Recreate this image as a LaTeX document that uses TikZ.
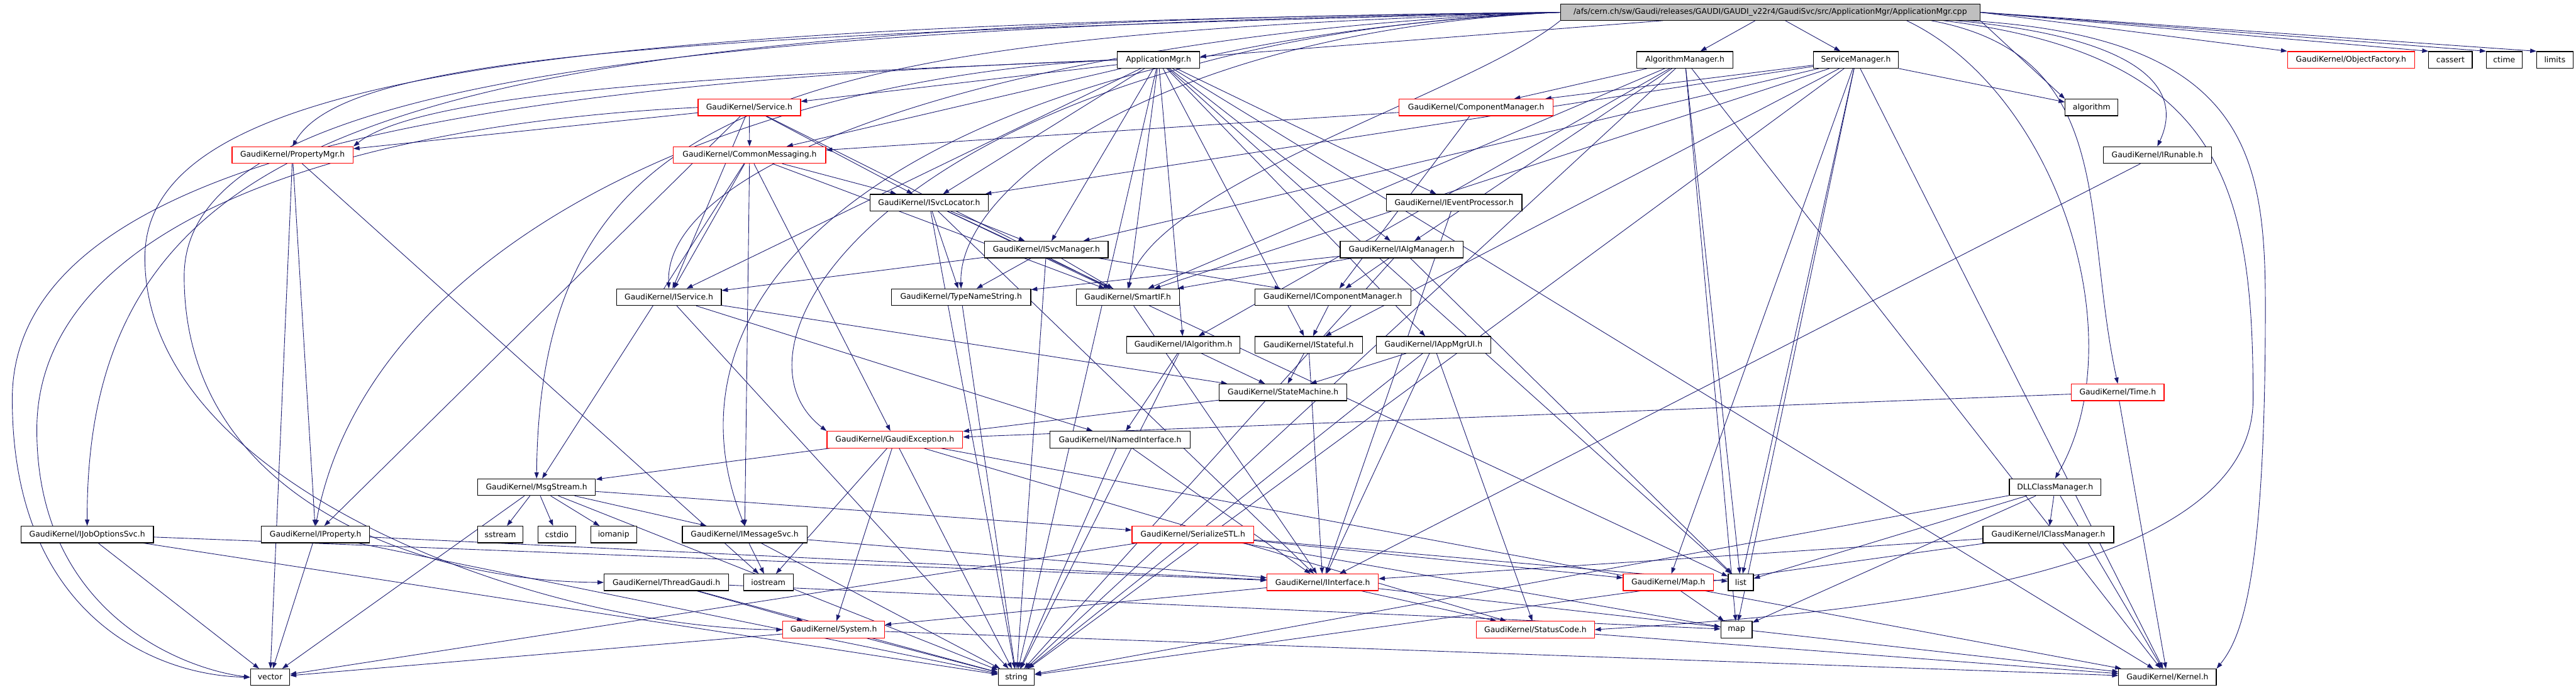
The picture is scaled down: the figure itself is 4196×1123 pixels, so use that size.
\documentclass[tikz,border=0pt]{standalone}
\usepackage{fontspec}
\newfontfamily\dvs{DejaVu Sans}
\usetikzlibrary{arrows.meta}
\definecolor{edgec}{HTML}{191970}
\definecolor{rootgray}{HTML}{BFBFBF}
\definecolor{redb}{HTML}{FF0000}
\pgfdeclarelayer{paper}
\pgfdeclarelayer{edges}
\pgfsetlayers{paper,edges,main}
\newcommand\ed[2]{\draw[dep] (#1) -- (#2);}
\begin{document}
\begin{tikzpicture}[x=1pt,y=-1pt,
  box/.style={draw=black,line width=1.2pt,fill=white,inner sep=0pt,minimum height=27pt,font=\dvs\fontsize{12.7pt}{15pt}\selectfont},
  redbox/.style={box,draw=redb},
  dep/.style={draw=edgec,line width=0.9pt,-{Triangle[length=10pt,width=7pt]}}]
\useasboundingbox (0,0) rectangle (4196,1123);
\begin{pgfonlayer}{paper}
\fill[white] (0,0) rectangle (4196,1123);
\end{pgfonlayer}
% row A
\node[box,fill=rootgray,minimum width=683pt,minimum height=26pt] (root) at (2883.5,20) {/afs/cern.ch/sw/Gaudi/releases/GAUDI/GAUDI\_v22r4/GaudiSvc/src/ApplicationMgr/ApplicationMgr.cpp};
% row B
\node[box,minimum width=134pt] (apm) at (1887,97.5) {ApplicationMgr.h};
\node[box,minimum width=157pt] (algm) at (2744.5,97.5) {AlgorithmManager.h};
\node[box,minimum width=138pt] (svcm) at (3023,97.5) {ServiceManager.h};
\node[redbox,minimum width=207pt] (objf) at (3829.5,97.5) {GaudiKernel/ObjectFactory.h};
\node[box,minimum width=71pt] (cassert) at (3991.5,97.5) {cassert};
\node[box,minimum width=58pt] (ctime) at (4079,97.5) {ctime};
\node[box,minimum width=59pt] (limits) at (4161.5,97.5) {limits};
% row C
\node[redbox,minimum width=167pt] (service) at (1220.5,175) {GaudiKernel/Service.h};
\node[redbox,minimum width=251pt] (compm) at (2404.5,175) {GaudiKernel/ComponentManager.h};
\node[box,minimum width=86pt] (algo) at (3407,175) {algorithm};
% row D
\node[redbox,minimum width=197pt] (propmgr) at (476.5,252.5) {GaudiKernel/PropertyMgr.h};
\node[redbox,minimum width=248pt] (commsg) at (1221,252.5) {GaudiKernel/CommonMessaging.h};
\node[box,minimum width=176pt] (irun) at (3514,252.5) {GaudiKernel/IRunable.h};
% row E
\node[box,minimum width=193pt] (isvcloc) at (1513.5,330) {GaudiKernel/ISvcLocator.h};
\node[box,minimum width=221pt] (ievp) at (2368.5,330) {GaudiKernel/IEventProcessor.h};
% row F
\node[box,minimum width=201pt] (isvcmgr) at (1704.5,406.5) {GaudiKernel/ISvcManager.h};
\node[box,minimum width=200pt] (ialgmgr) at (2283,406.5) {GaudiKernel/IAlgManager.h};
% row G
\node[box,minimum width=171pt] (iservice) at (1089.5,484) {GaudiKernel/IService.h};
\node[box,minimum width=227pt] (tns) at (1565.5,484) {GaudiKernel/TypeNameString.h};
\node[box,minimum width=168pt] (smartif) at (1837,484) {GaudiKernel/SmartIF.h};
\node[box,minimum width=254pt] (icompmgr) at (2171,484) {GaudiKernel/IComponentManager.h};
% row H
\node[box,minimum width=185pt] (ialg) at (1927.5,561.5) {GaudiKernel/IAlgorithm.h};
\node[box,minimum width=175pt] (istateful) at (2131.5,561.5) {GaudiKernel/IStateful.h};
\node[box,minimum width=186pt] (iappmgrui) at (2335,561.5) {GaudiKernel/IAppMgrUI.h};
% row I
\node[box,minimum width=208pt] (statem) at (2090,639) {GaudiKernel/StateMachine.h};
\node[redbox,minimum width=151pt] (timeh) at (3449.5,639) {GaudiKernel/Time.h};
% row J
\node[redbox,minimum width=221pt] (gexc) at (1457.5,716) {GaudiKernel/GaudiException.h};
\node[box,minimum width=229pt] (inamed) at (1824.5,716) {GaudiKernel/INamedInterface.h};
% row K
\node[box,minimum width=192pt] (msgs) at (874,793.5) {GaudiKernel/MsgStream.h};
\node[box,minimum width=149pt] (dllcm) at (3347.5,793.5) {DLLClassManager.h};
% row L
\node[box,minimum width=216pt] (ijob) at (142,870.5) {GaudiKernel/IJobOptionsSvc.h};
\node[box,minimum width=176pt] (iprop) at (514,870.5) {GaudiKernel/IProperty.h};
\node[box,minimum width=74pt] (sstream) at (815,870.5) {sstream};
\node[box,minimum width=62pt] (cstdio) at (907,870.5) {cstdio};
\node[box,minimum width=75pt] (iomanip) at (999.5,870.5) {iomanip};
\node[box,minimum width=203pt] (imsgsvc) at (1213,870.5) {GaudiKernel/IMessageSvc.h};
\node[redbox,minimum width=198pt] (serial) at (1943,870.5) {GaudiKernel/SerializeSTL.h};
\node[box,minimum width=213pt] (iclassm) at (3336.5,870.5) {GaudiKernel/IClassManager.h};
% row M
\node[box,minimum width=203pt] (threadg) at (1085.5,948.5) {GaudiKernel/ThreadGaudi.h};
\node[box,minimum width=81pt] (iostream) at (1251.5,948.5) {iostream};
\node[redbox,minimum width=181pt] (iintf) at (2154.5,948.5) {GaudiKernel/IInterface.h};
\node[redbox,minimum width=147pt] (maph) at (2717.5,948.5) {GaudiKernel/Map.h};
\node[box,minimum width=41pt] (list) at (2835.5,948.5) {list};
% row N
\node[redbox,minimum width=166pt] (system) at (1358,1025.5) {GaudiKernel/System.h};
\node[redbox,minimum width=192pt] (statusc) at (2501,1025.5) {GaudiKernel/StatusCode.h};
\node[box,minimum width=51pt] (mapstd) at (2828.5,1025.5) {map};
% row O
\node[box,minimum width=64pt] (vector) at (440,1103) {vector};
\node[box,minimum width=59pt] (string) at (1655.5,1103) {string};
\node[box,minimum width=159pt] (kernel) at (3530.5,1103) {GaudiKernel/Kernel.h};

\begin{pgfonlayer}{edges}
% root
\ed{root}{apm} \ed{root}{algm} \ed{root}{svcm}
\draw[dep] (root.east) -- (objf.north west);
\draw[dep] (root.east) -- (cassert.north west);
\draw[dep] (root.east) -- (ctime.north west);
\draw[dep] (root.east) -- (limits.north west);
\draw[dep] (root.south east) -- (algo.north west);
\draw[dep] ([xshift=-40pt]root.south east) .. controls (3480,60) and (3560,140) .. (irun.north);
\draw[dep] ([xshift=-80pt]root.south east) .. controls (3450,90) and (3390,350) .. (timeh.north);
\draw[dep] ([xshift=-20pt]root.south east) .. controls (3660,60) and (3690,250) .. (3690,500) .. controls (3690,950) and (3650,1040) .. (kernel.north east);
\draw[dep] ([xshift=-60pt]root.south east) .. controls (3620,90) and (3670,300) .. (3670,650) .. controls (3670,950) and (3000,1000) .. (statusc.east);
\draw[dep] ([xshift=-120pt]root.south east) .. controls (3350,150) and (3480,550) .. (dllcm.north);
\draw[dep] (root.west) .. controls (700,38) and (140,180) .. (ijob.north);
\draw[dep] (root.west) .. controls (900,40) and (236,120) .. (236,420) .. controls (236,800) and (900,1025) .. (system.west);
\draw[dep] (root.west) .. controls (1000,45) and (300,150) .. (300,450) .. controls (300,820) and (700,948) .. (threadg.west);
\draw[dep] (root.west) .. controls (1100,55) and (560,90) .. (propmgr.north);
\draw[dep] (root.west) .. controls (1300,60) and (880,150) .. (msgs.north);
\draw[dep] (root.west) .. controls (1500,70) and (1050,450) .. (imsgsvc.north);
\draw[dep] (root.west) .. controls (1500,60) and (1150,550) .. (gexc.north west);
\draw[dep] (root.west) .. controls (1700,50) and (1080,250) .. (iservice.north);
\draw[dep] (root.west) .. controls (1900,50) and (1560,300) .. (tns.north);
\draw[dep] (root.south west) .. controls (2400,150) and (1880,300) .. (smartif.north);
% ApplicationMgr.h
\ed{apm}{service} \ed{apm}{commsg} \ed{apm}{isvcloc} \ed{apm}{isvcmgr}
\ed{apm}{ialgmgr} \ed{apm}{ievp} \ed{apm}{istateful} \ed{apm}{iappmgrui}
\ed{apm}{smartif} \ed{apm}{iservice} \ed{apm}{list} \ed{apm}{string}
\ed{apm}{kernel} \ed{apm}{ialg}
\draw[dep] (apm.west) .. controls (1300,120) and (700,140) .. (propmgr.north east);
\draw[dep] (apm.west) .. controls (1200,125) and (600,400) .. (iprop.north);
\draw[dep] (apm.west) .. controls (800,135) and (20,250) .. (20,650) .. controls (20,1000) and (250,1100) .. (vector.west);
% AlgorithmManager.h
\ed{algm}{compm} \ed{algm}{ialgmgr} \ed{algm}{ialg} \ed{algm}{smartif}
\ed{algm}{list} \ed{algm}{string} \ed{algm}{kernel} \ed{algm}{mapstd}
% ServiceManager.h
\ed{svcm}{compm} \ed{svcm}{isvcmgr} \ed{svcm}{isvcloc} \ed{svcm}{smartif}
\ed{svcm}{istateful} \ed{svcm}{maph} \ed{svcm}{list} \ed{svcm}{mapstd}
\ed{svcm}{string} \ed{svcm}{algo} \ed{svcm}{kernel}
% DLLClassManager.h
\ed{dllcm}{iclassm} \ed{dllcm}{kernel} \ed{dllcm}{list} \ed{dllcm}{mapstd} \ed{dllcm}{string}
% ComponentManager.h
\ed{compm}{commsg} \ed{compm}{icompmgr}
% Service.h
\ed{service}{iservice} \ed{service}{isvcloc} \ed{service}{iprop}
\ed{service}{propmgr} \ed{service}{commsg} \ed{service}{smartif}
\draw[dep] (service.west) .. controls (600,200) and (60,350) .. (60,700) .. controls (60,1000) and (300,1090) .. (vector.west);
% CommonMessaging.h
\ed{commsg}{iservice} \ed{commsg}{isvcloc} \ed{commsg}{imsgsvc}
\ed{commsg}{msgs} \ed{commsg}{smartif} \ed{commsg}{gexc}
% PropertyMgr.h
\ed{propmgr}{iprop} \ed{propmgr}{vector} \ed{propmgr}{iostream}
% ISvcLocator.h
\ed{isvcloc}{isvcmgr} \ed{isvcloc}{iintf} \ed{isvcloc}{smartif}
\ed{isvcloc}{tns} \ed{isvcloc}{string} \ed{isvcloc}{list}
% IEventProcessor.h, IRunable.h
\ed{ievp}{iintf} \ed{irun}{iintf}
% ISvcManager.h
\ed{isvcmgr}{iservice} \ed{isvcmgr}{tns} \ed{isvcmgr}{smartif}
\ed{isvcmgr}{icompmgr} \ed{isvcmgr}{string}
% IAlgManager.h
\ed{ialgmgr}{icompmgr} \ed{ialgmgr}{smartif} \ed{ialgmgr}{tns}
\ed{ialgmgr}{string} \ed{ialgmgr}{list}
% IService.h
\ed{iservice}{inamed} \ed{iservice}{statem} \ed{iservice}{string}
% misc
\ed{tns}{string} \ed{smartif}{iintf} \ed{icompmgr}{istateful}
\ed{ialg}{inamed} \ed{ialg}{statem} \ed{ialg}{string}
\ed{istateful}{statem} \ed{istateful}{iintf}
\ed{iappmgrui}{statem} \ed{iappmgrui}{iintf} \ed{iappmgrui}{string} \ed{iappmgrui}{statusc}
\ed{statem}{gexc}
\ed{timeh}{gexc} \ed{timeh}{kernel}
% GaudiException.h
\ed{gexc}{msgs} \ed{gexc}{system} \ed{gexc}{statusc}
\ed{gexc}{kernel} \ed{gexc}{string} \ed{gexc}{iostream}
\ed{inamed}{iintf} \ed{inamed}{string}
% MsgStream.h
\ed{msgs}{imsgsvc} \ed{msgs}{serial} \ed{msgs}{sstream} \ed{msgs}{cstdio}
\ed{msgs}{iomanip} \ed{msgs}{string} \ed{msgs}{vector}
\ed{iclassm}{iintf} \ed{iclassm}{string}
\ed{ijob}{iintf} \ed{ijob}{vector} \ed{ijob}{string}
\ed{iprop}{iintf} \ed{iprop}{vector} \ed{iprop}{string}
\ed{imsgsvc}{iintf} \ed{imsgsvc}{iostream} \ed{imsgsvc}{string}
\ed{serial}{maph} \ed{serial}{list} \ed{serial}{mapstd} \ed{serial}{vector}
\ed{threadg}{system} \ed{threadg}{string} \ed{threadg}{mapstd}
\ed{iintf}{system} \ed{iintf}{statusc} \ed{iintf}{kernel}
\ed{maph}{mapstd}
\ed{system}{kernel} \ed{system}{string} \ed{system}{vector}
\ed{statusc}{kernel}
\end{pgfonlayer}
\end{tikzpicture}
\end{document}
